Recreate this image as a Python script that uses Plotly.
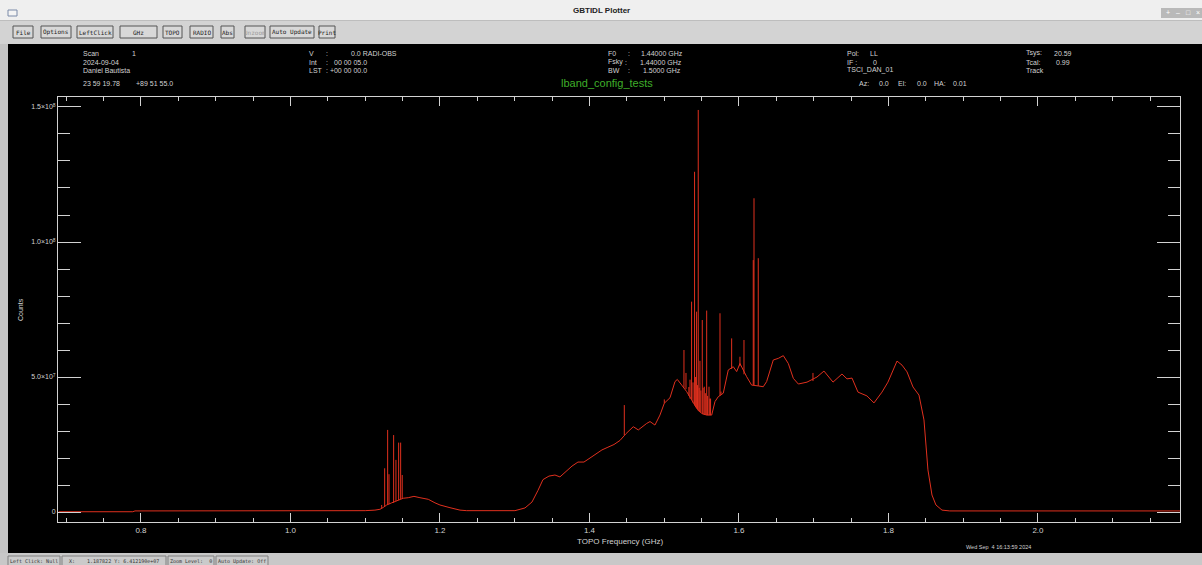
import plotly.graph_objects as go

# ---------------- data ----------------
freq_ghz = [0.690, 0.789, 0.792, 0.900, 1.000, 1.100, 1.113, 1.1197, 1.1242, 1.1287,
            1.1354, 1.1421, 1.1509, 1.1576, 1.1652, 1.1732, 1.1844, 1.1933, 1.2000,
            1.2134, 1.2268, 1.2357, 1.3003, 1.3137, 1.3231, 1.3311, 1.3378, 1.3458,
            1.3538, 1.3605, 1.3686, 1.3766, 1.3846, 1.3926, 1.4007, 1.4087, 1.4167,
            1.4247, 1.4328, 1.4408, 1.4488, 1.4586, 1.4653, 1.4765, 1.4810, 1.4876,
            1.4943, 1.5001, 1.5077, 1.5144, 1.5175, 1.5234, 1.5300, 1.5367, 1.5434,
            1.5501, 1.5568, 1.5635, 1.5679, 1.5723, 1.5790, 1.5857, 1.5924, 1.5969,
            1.6013, 1.6103, 1.6169, 1.6258, 1.6325, 1.6370, 1.6459, 1.6526, 1.6593,
            1.6660, 1.6727, 1.6794, 1.6910, 1.7044, 1.7137, 1.7258, 1.7378, 1.7445,
            1.7512, 1.7592, 1.7712, 1.7806, 1.7913, 1.7993, 1.8114, 1.8181, 1.8248,
            1.8328, 1.8408, 1.8475, 1.8528, 1.8582, 1.8635, 1.8716, 1.8820, 2.0000,
            2.1900]
counts = [1.0e5, 1.0e5, 4.0e5, 4.0e5, 4.0e5, 5.0e5, 7.0e5, 1.0e6, 1.7e6, 2.6e6,
          3.4e6, 4.2e6, 5.1e6, 5.3e6, 5.8e6, 5.3e6, 4.7e6, 3.4e6, 2.6e6,
          1.6e6, 7.0e5, 5.0e5, 5.0e5, 1.5e6, 3.7e6, 8.0e6, 1.2e7, 1.33e7,
          1.37e7, 1.30e7, 1.50e7, 1.70e7, 1.85e7, 1.85e7, 2.00e7, 2.15e7, 2.30e7,
          2.40e7, 2.50e7, 2.65e7, 2.90e7, 3.16e7, 3.04e7, 3.28e7, 3.35e7, 3.22e7,
          3.59e7, 4.03e7, 4.23e7, 4.83e7, 4.91e7, 4.70e7, 4.46e7, 4.15e7, 3.84e7,
          3.65e7, 3.59e7, 3.59e7, 4.09e7, 4.27e7, 4.40e7, 5.26e7, 5.38e7, 5.20e7,
          5.50e7, 5.01e7, 4.70e7, 4.67e7, 4.64e7, 4.83e7, 5.63e7, 5.69e7, 5.79e7,
          5.50e7, 4.95e7, 4.74e7, 4.81e7, 5.00e7, 5.22e7, 4.81e7, 5.11e7, 4.93e7,
          4.96e7, 4.44e7, 4.30e7, 4.04e7, 4.44e7, 4.81e7, 5.59e7, 5.44e7, 5.19e7,
          4.63e7, 4.33e7, 3.41e7, 1.56e7, 6.3e6, 2.6e6, 7.0e5, 4.0e5, 4.0e5,
          4.0e5]

spike_freq = [1.1220, 1.1260, 1.1300, 1.1318, 1.1380, 1.1411, 1.1447, 1.1474, 1.1495,
              1.4466, 1.5001, 1.5264, 1.5291, 1.5330, 1.5345, 1.5366, 1.5385, 1.5406,
              1.5420, 1.5433, 1.5445, 1.5455, 1.5468, 1.5478, 1.5490, 1.5509, 1.5520,
              1.5536, 1.5550, 1.5568, 1.5580, 1.5599, 1.5610, 1.5620, 1.5746, 1.5759,
              1.5902, 1.6013, 1.6067, 1.6191, 1.6201, 1.6258, 1.6990]
spike_base = [1.5e6, 2.0e6, 2.6e6, 2.9e6, 3.4e6, 4.0e6, 4.4e6, 4.8e6, 5.0e6,
              2.85e7, 4.03e7, 4.60e7, 4.55e7, 4.30e7, 4.20e7, 4.15e7, 4.05e7, 3.95e7,
              3.90e7, 3.84e7, 3.80e7, 3.75e7, 3.72e7, 3.70e7, 3.68e7, 3.65e7, 3.62e7,
              3.60e7, 3.60e7, 3.59e7, 3.59e7, 3.59e7, 3.59e7, 3.59e7, 4.30e7, 4.35e7,
              5.30e7, 5.40e7, 5.10e7, 4.70e7, 4.70e7, 4.67e7, 4.85e7]
spike_peak = [2.6e6, 1.62e7, 3.04e7, 1.40e7, 2.85e7, 1.93e7, 2.57e7, 2.57e7, 1.37e7,
              3.96e7, 4.17e7, 6.00e7, 5.15e7, 4.63e7, 4.90e7, 7.79e7, 4.80e7, 1.26e8,
              5.00e7, 7.42e7, 4.70e7, 1.489e8, 4.60e7, 5.60e7, 4.50e7, 7.11e7, 4.60e7,
              4.64e7, 4.40e7, 7.46e7, 4.30e7, 4.64e7, 4.20e7, 4.20e7, 7.36e7, 4.46e7,
              6.43e7, 5.75e7, 6.37e7, 9.33e7, 1.162e8, 9.40e7, 5.15e7]

x_tick_vals = [0.8, 1.0, 1.2, 1.4, 1.6, 1.8, 2.0]
x_tick_text = ["0.8", "1.0", "1.2", "1.4", "1.6", "1.8", "2.0"]
y_tick_vals = [0, 5e7, 1e8, 1.5e8]
y_tick_text = ["0", "5.0×10<sup>7</sup>", "1.0×10<sup>8</sup>", "1.5×10<sup>8</sup>"]

buttons = ["File", "Options", "LeftClick", "GHz", "TOPO", "RADIO", "Abs", "Unzoom", "Auto Update", "Print"]
button_x0 = [13, 41, 77, 120, 163, 190, 221, 245, 270, 319]
button_x1 = [33, 71, 113, 157, 182, 213, 234, 265, 314, 335]

# ---------------- layout geometry ----------------
W, H = 1202, 565
L, R, T, B = 58, 1180, 97, 522
PW, PH = R - L, B - T
FONT = "Liberation Sans"
MONO = "DejaVu Sans Mono"
LIGHT = "#d2d2d2"


def px(x):
    return (x - L) / PW


def py(y):
    return (B - y) / PH


shapes = []
annotations = []


def rect(x0, y0, x1, y1, fill, line=None, lw=0, layer="below"):
    shapes.append(dict(type="rect", xref="paper", yref="paper",
                       x0=px(x0), x1=px(x1), y0=py(y1), y1=py(y0),
                       fillcolor=fill, line=dict(color=line or fill, width=lw),
                       layer=layer))


def text(x, y, s, size=7, color=LIGHT, anchor="left", family=FONT, angle=0):
    annotations.append(dict(x=px(x), y=py(y), xref="paper", yref="paper", text=s,
                            showarrow=False, xanchor=anchor, yanchor="middle",
                            font=dict(size=size, color=color, family=family),
                            textangle=angle, borderpad=0))


# window chrome
rect(0, 0, W, 20, "#efefef")
rect(0, 20, W, 44, "#d3d3d3")
rect(0, 20, W, 21, "#bdbdbd")
rect(8, 10, 17, 16, "#f4f4f4", "#7a8aa8", 1)
text(601, 10, "<b>GBTIDL Plotter</b>", size=8, color="#222222", anchor="center")
rect(1161, 8, 1202, 18, "#b9b9b9")
text(1168, 13, "+", size=7, color="#ffffff", anchor="center")
text(1178, 13, "–", size=7, color="#ffffff", anchor="center")
text(1188, 13, "□", size=7, color="#ffffff", anchor="center")
text(1198, 13, "×", size=7, color="#ffffff", anchor="center")
for name, a, b in zip(buttons, button_x0, button_x1):
    rect(a, 26, b, 38, "#d8d8d8", "#555555", 1)
    col = "#9a9a9a" if name == "Unzoom" else "#222222"
    text((a + b) / 2, 32, name, size=6, color=col, anchor="center", family=MONO)

# black drawing area and status bar
rect(0, 44, 8, 553, "#c4c4c4")
rect(8, 44, W, 553, "#000000")
rect(0, 553, W, H, "#c8c8c8")
status = ["Left Click: Null", "X:    1.187822 Y: 6.412190e+07", "Zoom Level:  0", "Auto Update: Off"]
sx0 = [8, 62, 168, 216]
sx1 = [60, 166, 214, 268]
for s, a, b in zip(status, sx0, sx1):
    rect(a, 556, b, 566, "#cacaca", "#808080", 1)
    text((a + b) / 2, 561, s, size=5, color="#333333", family=MONO, anchor="center")

# header information
r1, r2, r3, r4 = 53, 62, 70, 83
text(82, r1, "Scan")
text(131, r1, "1")
text(82, r2, "2024-09-04")
text(82, r3, "Daniel Bautista")
text(82, r4, "23 59 19.78")
text(135, r4, "+89 51 55.0")

text(308, r1, "V")
text(325, r1, ":")
text(350, r1, "0.0 RADI-OBS")
text(308, r2, "Int")
text(325, r2, ":")
text(333, r2, "00 00 05.0")
text(308, r3, "LST")
text(325, r3, ": +00 00 00.0")

text(607, r1, "F0")
text(627, r1, ":")
text(640, r1, "1.44000 GHz")
text(607, r2, "Fsky")
text(624, r2, ":")
text(639, r2, "1.44000 GHz")
text(607, r3, "BW")
text(627, r3, ":")
text(642, r3, "1.5000 GHz")

text(607, r4, "lband_config_tests", size=11, color="#3fae2a", anchor="center")

text(846, r1, "Pol:")
text(869, r1, "LL")
text(846, r2, "IF :")
text(872, r2, "0")
text(846, r3, "TSCI_DAN_01")
text(1025, r1, "Tsys:")
text(1053, r1, "20.59")
text(1025, r2, "Tcal:")
text(1055, r2, "0.99")
text(1025, r3, "Track")

text(858, r4, "Az:")
text(878, r4, "0.0")
text(897, r4, "El:")
text(916, r4, "0.0")
text(933, r4, "HA:")
text(952, r4, "0.01")

text(20, 310, "Counts", size=7, angle=-90, anchor="center")
text(620, 541, "TOPO Frequency (GHz)", size=8, anchor="center")
text(999, 547, "Wed Sep  4 16:13:59 2024", size=5.5, anchor="center")

# ---------------- traces ----------------
fig = go.Figure()
fig.add_trace(go.Scatter(x=freq_ghz, y=counts, mode="lines",
                         line=dict(color="#e0301e", width=1), hoverinfo="skip"))
sx, sy = [], []
for f, b0, p0 in zip(spike_freq, spike_base, spike_peak):
    sx += [f, f, None]
    sy += [b0, p0, None]
fig.add_trace(go.Scatter(x=sx, y=sy, mode="lines",
                         line=dict(color="#e0301e", width=1), hoverinfo="skip"))

axis_common = dict(showgrid=False, zeroline=False, showline=True, linecolor=LIGHT,
                   linewidth=1, mirror="ticks", ticks="inside", tickcolor=LIGHT,
                   tickwidth=1, tickfont=dict(size=8, color=LIGHT, family=FONT))
fig.update_xaxes(range=[0.689, 2.190], tickvals=x_tick_vals, ticktext=x_tick_text,
                 ticklen=9, minor=dict(dtick=0.05, tick0=0.8, ticklen=4, ticks="inside",
                                       tickcolor=LIGHT, showgrid=False),
                 **axis_common)
fig.update_yaxes(range=[-3.7e6, 1.537e8], tickvals=y_tick_vals, ticktext=y_tick_text,
                 ticklen=23, minor=dict(dtick=1e7, tick0=0, ticklen=12, ticks="inside",
                                        tickcolor=LIGHT, showgrid=False),
                 **axis_common)
fig.update_yaxes(tickfont=dict(size=7, color=LIGHT, family=FONT))

fig.update_layout(width=W, height=H, margin=dict(l=L, r=W - R, t=T, b=H - B),
                  paper_bgcolor="#d3d3d3", plot_bgcolor="#000000",
                  showlegend=False, shapes=shapes, annotations=annotations)
fig.write_html("out.html")
